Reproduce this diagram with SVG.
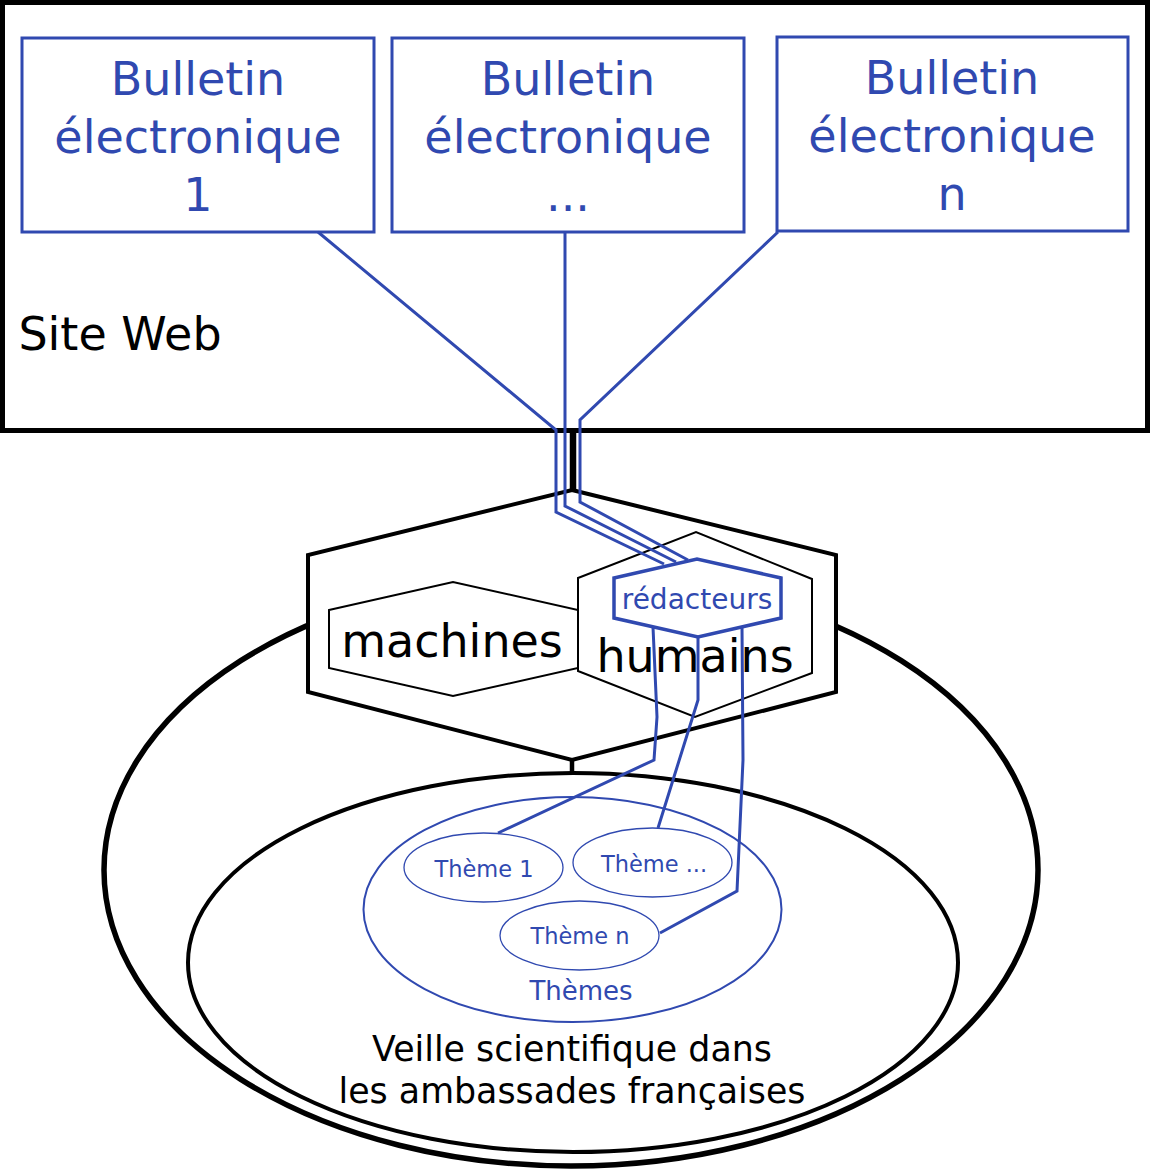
<svg xmlns="http://www.w3.org/2000/svg" width="1150" height="1172" viewBox="0 0 1150 1172">
<style>
.t{font-family:"DejaVu Sans","Liberation Sans",sans-serif;text-anchor:middle}
.b{fill:#3049b0}
.k{fill:#000}
.box{fill:#fff;stroke:#3049b0;stroke-width:3}
.conn{fill:none;stroke:#3049b0;stroke-width:3;stroke-linejoin:miter}
.th{fill:#fff;stroke:#3049b0;stroke-width:1.3}
</style>
<rect x="0" y="0" width="1150" height="1172" fill="#fff"/>
<g id="site-web">
<rect x="2.5" y="2.5" width="1145" height="428" fill="#fff" stroke="#000" stroke-width="5"/>
<text class="t k" x="120" y="350" font-size="46">Site Web</text>
</g>
<g id="bulletin-1">
<rect class="box" x="22" y="38" width="352" height="194"/>
<text class="t b" font-size="46"><tspan x="198" y="95">Bulletin</tspan><tspan x="198" y="153">électronique</tspan><tspan x="198" y="211">1</tspan></text>
</g>
<g id="bulletin-2">
<rect class="box" x="392" y="38" width="352" height="194"/>
<text class="t b" font-size="46"><tspan x="568" y="95">Bulletin</tspan><tspan x="568" y="153">électronique</tspan><tspan x="568" y="211">...</tspan></text>
</g>
<g id="bulletin-n">
<rect class="box" x="777" y="37" width="351" height="194"/>
<text class="t b" font-size="46"><tspan x="952" y="94">Bulletin</tspan><tspan x="952" y="152">électronique</tspan><tspan x="952" y="210">n</tspan></text>
</g>
<g id="veille">
<ellipse cx="571" cy="870" rx="467" ry="296" fill="#fff" stroke="#000" stroke-width="5.5"/>
<ellipse cx="573" cy="962.5" rx="385" ry="189.5" fill="#fff" stroke="#000" stroke-width="4"/>
<text class="t k" font-size="34.8"><tspan x="572" y="1061">Veille scientifique dans</tspan><tspan x="572" y="1103">les ambassades françaises</tspan></text>
</g>
<g id="themes">
<ellipse cx="572.5" cy="909.5" rx="209" ry="112.5" fill="#fff" stroke="#3049b0" stroke-width="2"/>
<text class="t b" x="581" y="1000" font-size="26">Thèmes</text>
</g>
<g id="theme-1">
<ellipse class="th" cx="483.5" cy="867.5" rx="79.5" ry="34.5"/>
<text class="t b" x="484" y="877" font-size="22.5">Thème 1</text>
</g>
<g id="theme-etc">
<ellipse class="th" cx="652.5" cy="862.5" rx="79.5" ry="34.5"/>
<text class="t b" x="654" y="872" font-size="22.5">Thème ...</text>
</g>
<g id="theme-n">
<ellipse class="th" cx="579.5" cy="935.5" rx="79.5" ry="34.5"/>
<text class="t b" x="580" y="944" font-size="22.5">Thème n</text>
</g>
<g id="agents">
<polygon points="572,490 836,555 836,692 572,760 308,692 308,555" fill="#fff" stroke="#000" stroke-width="4"/>
</g>
<g id="machines">
<polygon points="329,610 453,582 578,610 578,668 453,696 329,668" fill="#fff" stroke="#000" stroke-width="2"/>
<text class="t k" x="452" y="657" font-size="46">machines</text>
</g>
<g id="humains">
<polygon points="578,578 696,532 812,579 812,673 695,717 578,671" fill="#fff" stroke="#000" stroke-width="2"/>
<text class="t k" x="695" y="672" font-size="46">humains</text>
</g>
<g id="redacteurs">
<polygon points="614,578 697,559 781,578 781,618 698,637 614,618" fill="#fff" stroke="#3049b0" stroke-width="3.5"/>
<text class="t b" x="697" y="609" font-size="28">rédacteurs</text>
</g>
<g id="connectors">
<line x1="573" y1="432" x2="573" y2="490" stroke="#000" stroke-width="6.5"/>
<line x1="572" y1="760" x2="572" y2="774" stroke="#000" stroke-width="4.5"/>
<polyline class="conn" points="318,232 556,430 556,512 664,564"/>
<polyline class="conn" points="565,232 565,506 676,562"/>
<polyline class="conn" points="778,232 580,420 580,502 688,560"/>
<polyline class="conn" points="653,627 657,717 654,760 498,833"/>
<polyline class="conn" points="698,637 698,700 658,828"/>
<polyline class="conn" points="742,627 743,760 737,891 660,933"/>
</g>
</svg>
